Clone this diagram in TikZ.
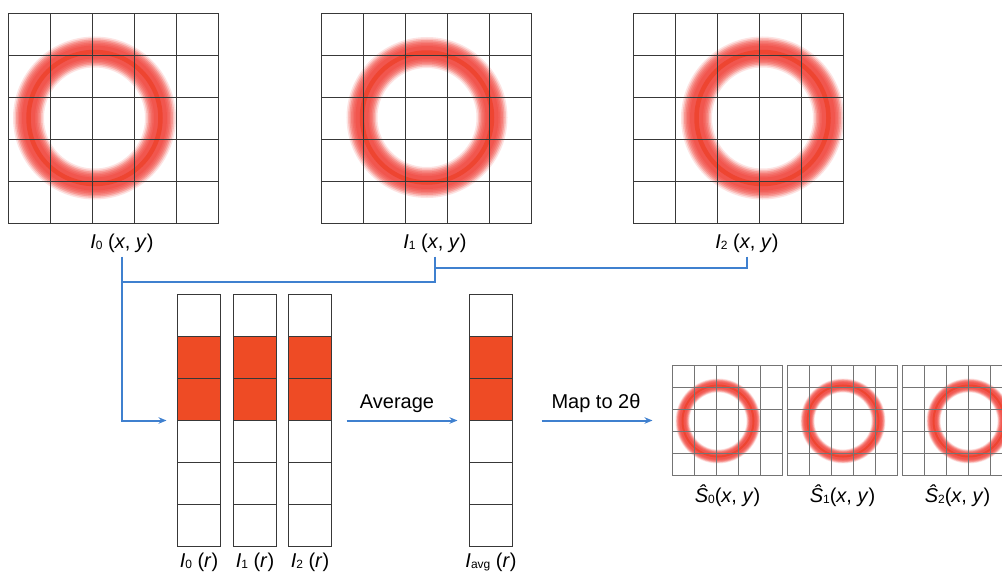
\documentclass[tikz,border=0pt]{standalone}
\usepackage{fontspec}
\setmainfont{Liberation Sans}
\usetikzlibrary{arrows.meta,calc}
\definecolor{lineblue}{HTML}{3F80CF}
\definecolor{ringred}{HTML}{F0443C}
\definecolor{ringcore}{HTML}{EC3A1E}
\definecolor{cellred}{HTML}{EE4B25}
\definecolor{gridgray}{HTML}{383838}
\newcommand{\sbs}[1]{\raisebox{-1.2pt}{\fontsize{12}{12}\selectfont #1}}
\newcommand{\myring}[4]{% cx, cy, radius, scale
  \foreach \w/\o in {31/0.15,28/0.22,25/0.3,22/0.3,19/0.3,16/0.3,13/0.4}{%
    \pgfmathsetmacro{\lw}{#4*\w}%
    \draw[ringred, line width=\lw pt, opacity=\o] (#1,#2) circle[radius=#3 pt];}%
  \pgfmathsetmacro{\lw}{#4*4.5}%
  \draw[ringcore, line width=\lw pt, opacity=0.6] (#1,#2) circle[radius=#3 pt];}
\newcommand{\gridlines}[2]{%
  \foreach \i in {1,...,4}{%
    \draw[#2] ($(#1.north west)!\i/5!(#1.north east)$) -- ($(#1.south west)!\i/5!(#1.south east)$);
    \draw[#2] ($(#1.north west)!\i/5!(#1.south west)$) -- ($(#1.north east)!\i/5!(#1.south east)$);
  }%
  \draw[#2] (#1.north west) rectangle (#1.south east);}
\newcommand{\mycol}[2]{% name, center x
  \node[colbox] (#1) at (#2,420.5) {};
  \fill[cellred] ($(#1.north west)+(0,42)$) rectangle ($(#1.north east)+(0,126)$);
  \foreach \k in {1,...,5}{\draw[cline] ($(#1.north west)+(0,\k*42)$) -- ($(#1.north east)+(0,\k*42)$);}
  \draw[cline] (#1.north west) rectangle (#1.south east);}
\begin{document}
\begin{tikzpicture}[x=1pt,y=-1pt,
  gline/.style={draw=gridgray, line width=1.4pt},
  sgline/.style={draw=gridgray!70, line width=1pt},
  cline/.style={draw=gridgray, line width=1.3pt},
  bigbox/.style={minimum width=210pt, minimum height=210pt, inner sep=0pt, outer sep=0pt},
  smallbox/.style={minimum width=110pt, minimum height=110pt, inner sep=0pt, outer sep=0pt},
  colbox/.style={minimum width=43pt, minimum height=252pt, inner sep=0pt, outer sep=0pt},
  lbl/.style={anchor=base, inner sep=4.5pt, text height=14pt, text depth=4pt, font=\fontsize{20}{24}\selectfont},
  conn/.style={draw=lineblue, line width=2pt},
  arr/.style={conn, -{Stealth[length=8pt,width=6.5pt]}},
]
\useasboundingbox (0,0) rectangle (1002,573);
\clip (0,0) rectangle (1002,573);
% big grids
\node[bigbox] (g0) at (113.5,118.5) {};
\node[bigbox] (g1) at (426.5,118.5) {};
\node[bigbox] (g2) at (738.5,118.5) {};
\myring{94.5}{118}{66}{1}
\myring{427}{117.5}{65}{1}
\myring{762.5}{118}{66}{1}
\gridlines{g0}{gline}
\gridlines{g1}{gline}
\gridlines{g2}{gline}
% labels
\node[lbl] (l0) at (122,248) {\textit{I}\sbs{0} (\textit{x}, \textit{y})};
\node[lbl] (l1) at (435,248) {\textit{I}\sbs{1} (\textit{x}, \textit{y})};
\node[lbl] (l2) at (747,248) {\textit{I}\sbs{2} (\textit{x}, \textit{y})};
% columns
\mycol{c0}{199}
\mycol{c1}{255}
\mycol{c2}{310}
\mycol{cavg}{491}
\node[lbl] (lc0) at (199,567.5) {\textit{I}\sbs{0} (\textit{r})};
\node[lbl] (lc1) at (255,567.5) {\textit{I}\sbs{1} (\textit{r})};
\node[lbl] (lc2) at (310,567.5) {\textit{I}\sbs{2} (\textit{r})};
\node[lbl] (lcavg) at (491,567.5) {\textit{I}\sbs{avg} (\textit{r})};
% small grids
\node[smallbox] (s0) at (727.5,420.5) {};
\node[smallbox] (s1) at (842.5,420.5) {};
\node[smallbox] (s2) at (957.5,420.5) {};
\myring{718}{421}{35.5}{0.45}
\myring{843}{421}{35.5}{0.45}
\myring{969}{421}{35.5}{0.45}
\gridlines{s0}{sgline}
\gridlines{s1}{sgline}
\gridlines{s2}{sgline}
\node[lbl] (ls0) at (727.5,502.5) {\textit{Ŝ}\sbs{0}(\textit{x}, \textit{y})};
\node[lbl] (ls1) at (842.5,502.5) {\textit{Ŝ}\sbs{1}(\textit{x}, \textit{y})};
\node[lbl] (ls2) at (957.5,502.5) {\textit{Ŝ}\sbs{2}(\textit{x}, \textit{y})};
% arrow texts
\node[lbl] (tavg) at (397,408) {Average};
\node[lbl] (tmap) at (596,408) {Map to 2θ};
% connectors
\coordinate (j0) at (122,282);
\coordinate (j1) at (435,268);
\draw[conn] (l2.south) |- (j1);
\draw[conn] (l1.south) |- (j0);
\draw[arr, shorten >=11pt] (l0.south) |- (c0.west);
\draw[arr, shorten <=15pt, shorten >=12pt] (c2.east) -- (cavg.west);
\draw[arr, shorten <=29pt, shorten >=20pt] (cavg.east) -- (s0.west);
\end{tikzpicture}
\end{document}
